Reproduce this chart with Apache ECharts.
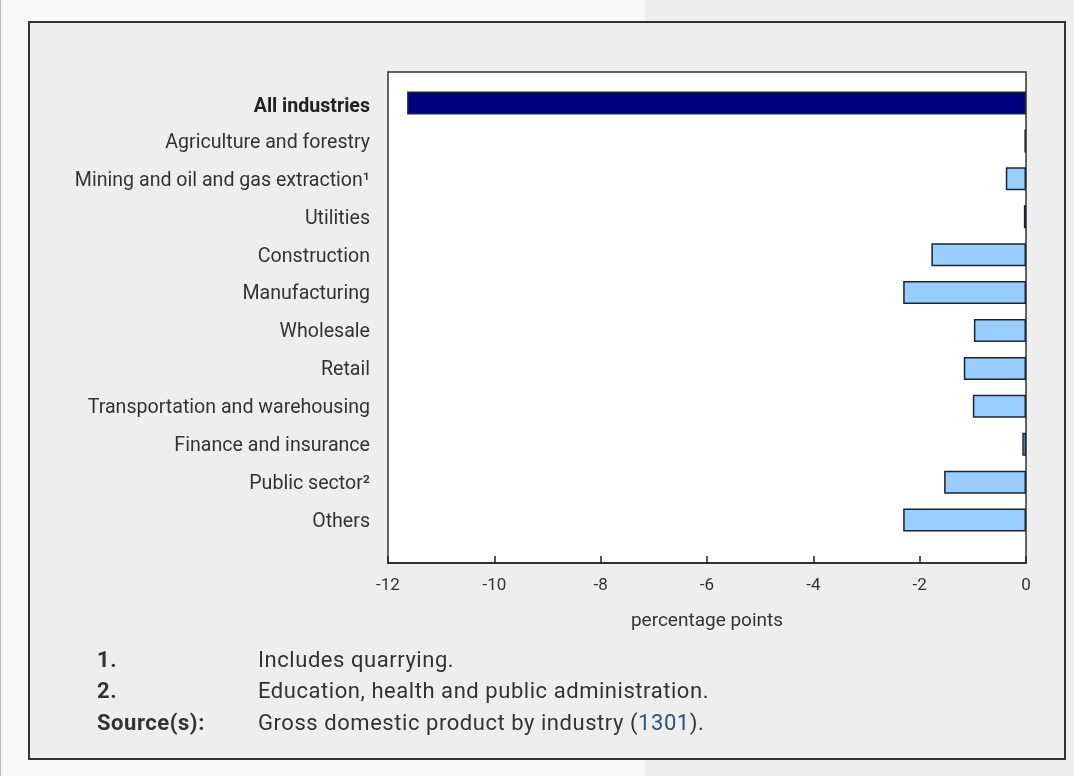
<!DOCTYPE html>
<html>
<head>
<meta charset="utf-8">
<script src="https://cdn.jsdelivr.net/npm/echarts@6/dist/echarts.min.js"></script>
<style>
html,body{margin:0;padding:0;width:1074px;height:776px;overflow:hidden;background:#f8f8f8;font-family:Roboto,sans-serif;}
#bgR{position:absolute;left:645px;top:0;width:429px;height:776px;background:#eeeeee;}
#edge{position:absolute;left:0;top:0;width:1px;height:776px;background:#bbb;}
#box{position:absolute;left:28px;top:21px;width:1034px;height:735px;border:2px solid #333;background:#eeeeee;}
#chart{position:absolute;left:0;top:0;width:1074px;height:776px;}
.fn{position:absolute;font-size:22px;letter-spacing:0.55px;color:#333;line-height:32px;white-space:nowrap;}
.fn b{font-weight:bold;}
</style>
</head>
<body>
<div id="bgR"></div>
<div id="edge"></div>
<div id="box"></div>
<div id="chart"></div>
<div class="fn" style="left:97px;top:644px;"><b>1.</b></div>
<div class="fn" style="left:258px;top:644px;">Includes quarrying.</div>
<div class="fn" style="left:97px;top:675px;"><b>2.</b></div>
<div class="fn" style="left:258px;top:675px;">Education, health and public administration.</div>
<div class="fn" style="left:97px;top:707px;"><b>Source(s):</b></div>
<div class="fn" style="left:258px;top:707px;">Gross domestic product by industry (<span style="color:#335075">1301</span>).</div>
<script>
const categories = ["All industries","Agriculture and forestry","Mining and oil and gas extraction\u00b9","Utilities","Construction","Manufacturing","Wholesale","Retail","Transportation and warehousing","Finance and insurance","Public sector\u00b2","Others"];
const values = [-11.64,-0.03,-0.38,-0.04,-1.78,-2.31,-0.98,-1.17,-1.0,-0.07,-1.54,-2.31];
const xTicks = [-12,-10,-8,-6,-4,-2,0];
const axisName = "percentage points";

const chart = echarts.init(document.getElementById('chart'));
chart.setOption({
  animation:false,
  backgroundColor:'transparent',
  textStyle:{fontFamily:'Roboto'},
  grid:[
    {left:388,right:48,top:84,height:455,containLabel:false},
    {left:388,right:48,top:72,height:491,show:true,backgroundColor:'#ffffff',borderColor:'#333',borderWidth:1.5,z:0}
  ],
  xAxis:[
    {gridIndex:0,type:'value',min:-12,max:0,interval:2,show:false},
    {gridIndex:1,type:'value',min:xTicks[0],max:xTicks[xTicks.length-1],interval:2,
     axisLine:{show:true,lineStyle:{color:'#222',width:1.5}},
     axisTick:{show:true,inside:true,length:7,lineStyle:{color:'#222',width:1.5}},
     axisLabel:{color:'#333',fontSize:17,margin:14},
     splitLine:{show:false},
     name:axisName,nameLocation:'middle',nameGap:49,nameTextStyle:{color:'#333',fontSize:19}}
  ],
  yAxis:[
    {gridIndex:0,type:'category',data:categories,inverse:true,
     axisLine:{show:false},axisTick:{show:false},
     axisLabel:{margin:18,fontSize:19.6,color:'#333',padding:[4,0,0,0],
       formatter:function(v){return v===categories[0]?'{b|'+v+'}':v;},
       rich:{b:{fontWeight:'bold',fontSize:19.6,color:'#222',padding:[4,0,0,0]}}}},
    {gridIndex:1,type:'value',min:0,max:1,show:false}
  ],
  series:[{
    type:'bar',xAxisIndex:0,yAxisIndex:0,
    data:values.map((v,i)=>({value:v,itemStyle:{color:i===0?'#000080':'#99ccff'}})),
    barWidth:23,
    itemStyle:{borderColor:'#1c2433',borderWidth:1.5},
    z:3
  }]
});
</script>
</body>
</html>
